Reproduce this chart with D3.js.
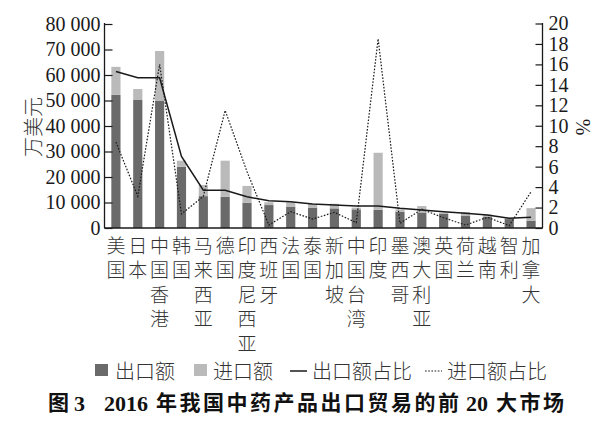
<!DOCTYPE html>
<html>
<head>
<meta charset="utf-8">
<script src="https://cdn.jsdelivr.net/npm/d3@7/dist/d3.min.js"></script>
<style>
  html, body { margin: 0; padding: 0; background: #fff; }
  svg { display: block; }
</style>
</head>
<body>
<svg id="chart" width="604" height="427"></svg>
<script>
// ---- Data (万美元 and %) ----
const categories = ["美国","日本","中国香港","韩国","马来西亚","德国","印度尼西亚","西班牙","法国","泰国",
                    "新加坡","中国台湾","印度","墨西哥","澳大利亚","英国","荷兰","越南","智利","加拿大"];
const exportValues = [52200, 50200, 49800, 24000, 12500, 12300, 9900, 9000, 8400, 8000,
                      7700, 7300, 7100, 6300, 6100, 5500, 4700, 4300, 3500, 2900];
const importValues = [11000, 4300, 19600, 2400, 4400, 14100, 6600, 1100, 1700, 1400,
                      1800, 700, 22400, 1000, 2500, 500, 1500, 1000, 500, 4900];
const exportShare = [15.3, 14.7, 14.7, 7.0, 3.7, 3.7, 3.05, 2.67, 2.57, 2.35,
                     2.25, 2.15, 2.15, 1.93, 1.76, 1.6, 1.44, 1.27, 0.95, 1.05];
const importShare = [8.4, 3.1, 16.0, 1.37, 3.1, 11.5, 5.5, 0.29, 1.6, 0.88,
                     1.53, 0.52, 18.5, 0.46, 1.83, 1.0, 0.29, 1.05, 0.23, 3.55];
const leftTicks = [0, 10000, 20000, 30000, 40000, 50000, 60000, 70000, 80000];
const rightTicks = [0, 2, 4, 6, 8, 10, 12, 14, 16, 18, 20];
const legendLabels = ["出口额", "进口额", "出口额占比", "进口额占比"];
const yLabel = "万美元";
const y2Label = "%";
const titleParts = ["图", "3", "2016", "年我国中药产品出口贸易的前", "20", "大市场"];

// ---- Layout ----
const svg = d3.select("#chart");
const serif = "Liberation Serif, Times New Roman, Tinos, Noto Sans CJK SC, serif";
const cjk = "Noto Sans CJK SC, Liberation Serif, sans-serif";
const darkCol = "#6a6a6a", lightCol = "#bababa", ink = "#1a1a1a";
const L = 104.5, R = 542.5, T = 24, B = 228;

const x = d3.scaleBand().domain(categories).range([105, 542]).paddingInner(0.58).paddingOuter(0.29);
const y = d3.scaleLinear().domain([0, 80000]).range([B, T]);
const y2 = d3.scaleLinear().domain([0, 20]).range([B, T - 0.5]);
const cx = c => x(c) + x.bandwidth() / 2;

const rows = categories.map((c, i) => ({c, e: exportValues[i], m: importValues[i], es: exportShare[i], ms: importShare[i]}));

// bars
const g = svg.append("g");
g.selectAll("rect.exp").data(rows).join("rect")
  .attr("x", d => x(d.c)).attr("width", x.bandwidth())
  .attr("y", d => y(d.e)).attr("height", d => y(0) - y(d.e))
  .attr("fill", darkCol);
g.selectAll("rect.imp").data(rows).join("rect")
  .attr("x", d => x(d.c)).attr("width", x.bandwidth())
  .attr("y", d => y(d.e + d.m)).attr("height", d => y(d.e) - y(d.e + d.m))
  .attr("fill", lightCol);

// lines
const lineE = d3.line().x(d => cx(d.c)).y(d => y2(d.es));
const lineM = d3.line().x(d => cx(d.c)).y(d => y2(d.ms));
g.append("path").datum(rows).attr("d", lineM).attr("fill", "none")
  .attr("stroke", ink).attr("stroke-width", 1.2).attr("stroke-dasharray", "1.6,1.6");
g.append("path").datum(rows).attr("d", lineE).attr("fill", "none")
  .attr("stroke", ink).attr("stroke-width", 1.5);

// axes
const axL = svg.append("g").attr("transform", `translate(${L},0)`)
  .call(d3.axisLeft(y).tickValues(leftTicks).tickSizeInner(-8).tickSizeOuter(0).tickPadding(4)
        .tickFormat(d => d3.format(",")(d).replace(/,/g, " ")));
const axR = svg.append("g").attr("transform", `translate(${R},0)`)
  .call(d3.axisRight(y2).tickValues(rightTicks).tickSizeInner(-7).tickSizeOuter(0).tickPadding(6));
[axL, axR].forEach(a => {
  a.attr("font-family", serif).attr("font-size", 20);
  a.select(".domain").remove();
  a.selectAll(".tick line").attr("stroke", ink).attr("stroke-width", 1.2);
  a.selectAll("text").attr("fill", ink);
});
axL.selectAll(".tick text").attr("x", -4);
svg.append("line").attr("x1", L).attr("x2", L).attr("y1", T - 1).attr("y2", B).attr("stroke", ink).attr("stroke-width", 1.3);
svg.append("line").attr("x1", R).attr("x2", R).attr("y1", T - 1).attr("y2", B).attr("stroke", ink).attr("stroke-width", 1.3);
svg.append("line").attr("x1", L).attr("x2", R).attr("y1", B).attr("y2", B).attr("stroke", ink).attr("stroke-width", 1.3);

// axis titles
svg.append("text").attr("transform", "translate(32,127) rotate(-90)")
  .attr("text-anchor", "middle").attr("dominant-baseline", "central")
  .attr("font-family", cjk).attr("font-weight", 300).attr("font-size", 20).attr("fill", "#333").text(yLabel);
svg.append("text").attr("transform", "translate(583,127) rotate(90)")
  .attr("text-anchor", "middle").attr("dominant-baseline", "central")
  .attr("font-family", serif).attr("font-size", 20).attr("fill", ink).text(y2Label);

// category labels (vertical, one char per row)
const rowY = [244, 268.5, 293, 317.5, 342];
const cl = svg.append("g").attr("font-family", cjk).attr("font-weight", 300).attr("font-size", 19).attr("fill", "#333")
  .attr("text-anchor", "middle").attr("dominant-baseline", "central");
categories.forEach(c => {
  Array.from(c).forEach((ch, k) => {
    cl.append("text").attr("x", cx(c)).attr("y", rowY[k]).text(ch);
  });
});

// legend
const lg = svg.append("g").attr("font-family", cjk).attr("font-weight", 300).attr("font-size", 20).attr("fill", "#333")
  .attr("dominant-baseline", "central");
const ly = 370;
lg.append("rect").attr("x", 95).attr("y", ly - 6).attr("width", 13).attr("height", 12).attr("fill", darkCol);
lg.append("text").attr("x", 115).attr("y", ly).text(legendLabels[0]);
lg.append("rect").attr("x", 194).attr("y", ly - 6).attr("width", 13).attr("height", 12).attr("fill", lightCol);
lg.append("text").attr("x", 213).attr("y", ly).text(legendLabels[1]);
lg.append("line").attr("x1", 290).attr("x2", 307).attr("y1", ly + 1).attr("y2", ly + 1).attr("stroke", ink).attr("stroke-width", 1.5);
lg.append("text").attr("x", 312).attr("y", ly).text(legendLabels[2]);
lg.append("line").attr("x1", 425).attr("x2", 442).attr("y1", ly + 1).attr("y2", ly + 1).attr("stroke", ink).attr("stroke-width", 1.2).attr("stroke-dasharray", "1.6,1.6");
lg.append("text").attr("x", 447).attr("y", ly).text(legendLabels[3]);

// title (one text, pieces positioned like the reference)
const titlePos = [48, 74, 104, 156, 466, 496];
const tt = svg.append("text").attr("y", 403).attr("dominant-baseline", "central")
  .attr("font-family", serif).attr("font-weight", "bold").attr("font-size", 21).attr("fill", "#111");
titleParts.forEach((p, i) => {
  tt.append("tspan").attr("x", titlePos[i])
    .attr("letter-spacing", /[\u4e00-\u9fff]/.test(p) && p.length > 1 ? 2.5 : 0)
    .attr("font-size", /\d/.test(p) ? 22 : 21)
    .text(p);
});
</script>
</body>
</html>
